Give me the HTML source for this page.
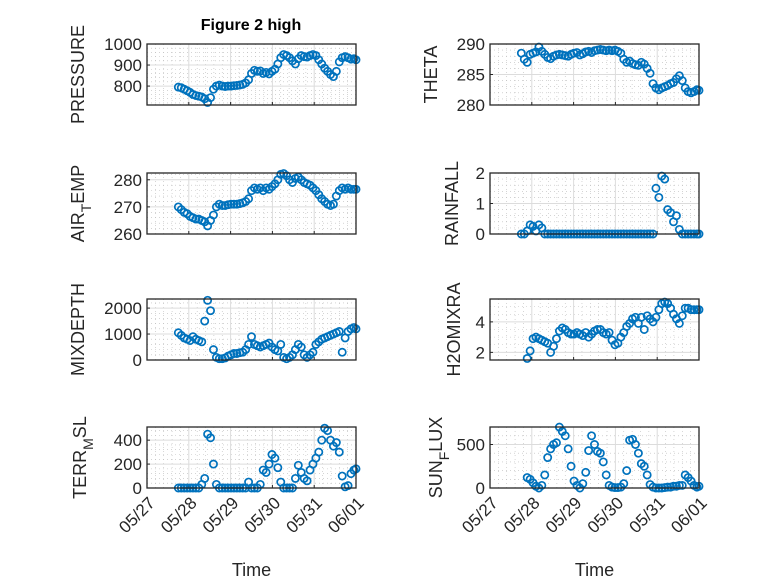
<!DOCTYPE html>
<html><head><meta charset="utf-8"><style>
body{margin:0;background:#fff}
svg text{font-family:"Liberation Sans","DejaVu Sans",sans-serif;fill:#262626}
</style></head><body>
<svg id="fig" width="778" height="583" viewBox="0 0 778 583" xmlns="http://www.w3.org/2000/svg">
<rect width="778" height="583" fill="#fff"/>
<text x="251" y="30" text-anchor="middle" font-size="16" font-weight="bold" style="fill:#000">Figure 2 high</text>
<g id="root"></g>
</svg>
<script>
const times=[0.75,0.82,0.89,0.96,1.03,1.10,1.17,1.24,1.31,1.38,1.45,1.52,1.59,1.66,1.73,1.80,1.87,1.94,2.01,2.08,2.15,2.22,2.29,2.36,2.43,2.50,2.57,2.64,2.71,2.78,2.85,2.92,2.99,3.06,3.13,3.20,3.27,3.34,3.41,3.48,3.55,3.62,3.69,3.76,3.83,3.90,3.97,4.04,4.11,4.18,4.25,4.32,4.39,4.46,4.53,4.60,4.67,4.74,4.81,4.88,4.95,5.00];
const xTickLabels=["05/27","05/28","05/29","05/30","05/31","06/01"];
const pressure=[795,792,785,778,770,760,755,752,748,740,722,745,785,800,805,800,798,800,800,802,803,805,808,815,830,860,875,870,872,860,865,858,870,880,905,935,950,945,935,920,905,930,945,940,938,945,950,945,925,905,885,870,855,845,870,915,935,940,935,928,930,925];
const theta=[288.5,287.5,287,288.3,288.5,288.7,289.5,288.8,288.3,287.8,287.6,288,288.2,288.3,288.2,288.1,288,288.3,288.5,288.6,288.2,288.4,288.7,288.8,288.6,288.9,289,289.1,289,288.9,289,288.9,289,288.8,288.5,287.5,287,287.2,286.8,286.6,286.5,287,286.7,286,285.2,283.5,282.8,282.5,282.8,283,283.2,283.5,283.7,284.3,284.8,284,282.8,282.2,282,282.2,282.5,282.4];
const airTemp=[270,269,268,267.5,266.5,266,265.5,265.5,265,264.5,263,265,267,270,271,270.5,270.5,270.8,271,271,271,271.2,271.5,272,273,276,277,276.5,277,276,277,276.5,277.5,278.5,280,282,282.3,281.5,280,279,280.5,281,280,279,278.5,278,277,276,274.5,273,272,271,270.5,271,274,276,277,276.5,277,276.5,276.5,276.5];
const rainfall=[0,0,0.1,0.3,0.25,0.1,0.3,0.2,0,0,0,0,0,0,0,0,0,0,0,0,0,0,0,0,0,0,0,0,0,0,0,0,0,0,0,0,0,0,0,0,0,0,0,0,0,0,1.5,1.2,1.9,1.8,0.8,0.7,0.4,0.6,0.15,0,0,0,0,0,0,0];
const mixDepth=[1050,950,850,800,750,900,800,750,700,1500,2300,1900,400,100,50,50,80,150,200,250,250,280,300,400,600,900,600,550,500,550,600,650,500,400,350,600,100,50,100,200,400,600,500,200,100,200,300,600,700,800,850,900,950,1000,1050,1100,300,850,1100,1200,1250,1200];
const h2oMix=[null,null,1.6,2.1,2.9,3.0,2.9,2.8,2.7,2.6,2.0,2.4,2.9,3.4,3.6,3.5,3.3,3.2,3.2,3.3,3.2,3.1,3.3,3.0,3.2,3.4,3.5,3.5,3.3,3.2,3.3,2.8,2.5,2.6,3.0,3.3,3.7,3.9,4.2,4.3,3.9,4.3,3.5,4.4,4.2,4.0,4.3,4.8,5.2,5.3,5.2,4.9,4.5,4.2,3.9,4.4,4.9,4.9,4.8,4.8,4.8,4.8];
const terrMsl=[0,0,0,0,0,0,0,0,30,80,450,420,200,30,0,0,0,0,0,0,0,0,0,0,50,0,0,0,30,150,130,200,280,250,170,50,0,0,0,0,80,190,130,80,60,150,200,250,300,400,500,480,400,350,380,300,100,10,20,120,150,160];
const sunFlux=[null,null,120,100,60,20,0,30,150,350,450,500,520,700,650,600,450,250,80,30,0,50,180,430,600,500,420,400,300,150,30,10,5,5,10,50,200,550,560,500,400,280,250,150,40,10,0,0,0,5,10,10,20,20,30,30,150,120,80,30,10,20];

const panels=[
 {name:'pressure',vals:pressure,x0:147,y0:44,ymin:710,ymax:1000,ticks:[800,900,1000],minor:20,label:['PRESSURE'],bottom:false,lx:84},
 {name:'theta',vals:theta,x0:490,y0:44,ymin:280,ymax:290,ticks:[280,285,290],minor:1,label:['THETA'],bottom:false,lx:437},
 {name:'air-temp',vals:airTemp,x0:147,y0:173,ymin:260,ymax:282.5,ticks:[260,270,280],minor:2,label:['AIR','T','EMP'],bottom:false,lx:84},
 {name:'rainfall',vals:rainfall,x0:490,y0:173,ymin:0,ymax:2,ticks:[0,1,2],minor:0.2,label:['RAINFALL'],bottom:false,lx:458},
 {name:'mixdepth',vals:mixDepth,x0:147,y0:299,ymin:0,ymax:2350,ticks:[0,1000,2000],minor:200,label:['MIXDEPTH'],bottom:false,lx:84},
 {name:'h2omixra',vals:h2oMix,x0:490,y0:299,ymin:1.5,ymax:5.5,ticks:[2,4],minor:0.5,label:['H2OMIXRA'],bottom:false,lx:460},
 {name:'terr-msl',vals:terrMsl,x0:147,y0:427,ymin:0,ymax:510,ticks:[0,200,400],minor:40,label:['TERR','M','SL'],bottom:true,lx:86},
 {name:'sun-flux',vals:sunFlux,x0:490,y0:427,ymin:0,ymax:701,ticks:[0,500],minor:100,label:['SUN','F','LUX'],bottom:true,lx:442}
];
const W=209,H=61,NS='http://www.w3.org/2000/svg';
const root=document.getElementById('root');
function mk(tag,attrs,parent){const e=document.createElementNS(NS,tag);for(const k in attrs)e.setAttribute(k,attrs[k]);parent.appendChild(e);return e;}
panels.forEach(p=>{
 const g=mk('g',{},root);
 
 
 const xs=t=>p.x0+t/5*W;
 const ys=v=>p.y0+H-(v-p.ymin)/(p.ymax-p.ymin)*H;
 mk('rect',{x:p.x0,y:p.y0,width:W,height:H,fill:'#fff'},g);
 for(let t=0.2;t<5;t+=0.2){if(Math.abs(t-Math.round(t))<0.01)continue;mk('line',{x1:xs(t),x2:xs(t),y1:p.y0,y2:p.y0+H,stroke:'#bbb','stroke-width':0.6,'stroke-dasharray':'1 3'},g);}
 for(let v=Math.ceil(p.ymin/p.minor)*p.minor;v<p.ymax;v+=p.minor){if(p.ticks.some(k=>Math.abs(k-v)<1e-6))continue;mk('line',{x1:p.x0,x2:p.x0+W,y1:ys(v),y2:ys(v),stroke:'#bbb','stroke-width':0.6,'stroke-dasharray':'1 3'},g);}
 for(let d=1;d<5;d++)mk('line',{x1:xs(d),x2:xs(d),y1:p.y0,y2:p.y0+H,stroke:'#dcdcdc','stroke-width':1},g);
 p.ticks.forEach(v=>{
  mk('line',{x1:p.x0,x2:p.x0+W,y1:ys(v),y2:ys(v),stroke:'#dcdcdc','stroke-width':1},g);
  mk('line',{x1:p.x0,x2:p.x0+3,y1:ys(v),y2:ys(v),stroke:'#262626'},g);
  const tl=mk('text',{x:p.x0-5,y:ys(v)+6,'text-anchor':'end','font-size':17},g);
  
  
  tl.textContent=v;
 });
 for(let d=0;d<=5;d++){mk('line',{x1:xs(d),x2:xs(d),y1:p.y0+H,y2:p.y0+H-3,stroke:'#262626'},g);}
 p.vals.forEach((v,i)=>{
  if(v===null)return;
  const c=mk('circle',{cx:xs(times[i]),cy:ys(v),r:3.6,fill:'none',stroke:'#0072BD','stroke-width':1.7},g);
  
  
 });
 const box=mk('rect',{x:p.x0,y:p.y0,width:W,height:H,fill:'none',stroke:'#262626','stroke-width':1.3},g);
 
 
 const yl=mk('text',{x:0,y:0,'font-size':18,'text-anchor':'middle',transform:`translate(${p.lx},${p.y0+H/2}) rotate(-90)`},g);
 
 
 if(p.label.length===1)yl.textContent=p.label[0];
 else{
  const a=mk('tspan',{},yl);a.textContent=p.label[0];
  const b=mk('tspan',{dy:7,'font-size':14},yl);b.textContent=p.label[1];
  const c=mk('tspan',{dy:-7},yl);c.textContent=p.label[2];
 }
 if(p.bottom){
  xTickLabels.forEach((s,d)=>{
   const tx=mk('text',{x:0,y:0,'font-size':17,'text-anchor':'end',transform:`translate(${xs(d)+9},${p.y0+H+16}) rotate(-45)`},g);
   
   
   tx.textContent=s;
  });
  const xt=mk('text',{x:p.x0+W/2,y:576,'font-size':18,'text-anchor':'middle'},g);
  
  
  xt.textContent='Time';
 }
});
</script>
</body></html>
